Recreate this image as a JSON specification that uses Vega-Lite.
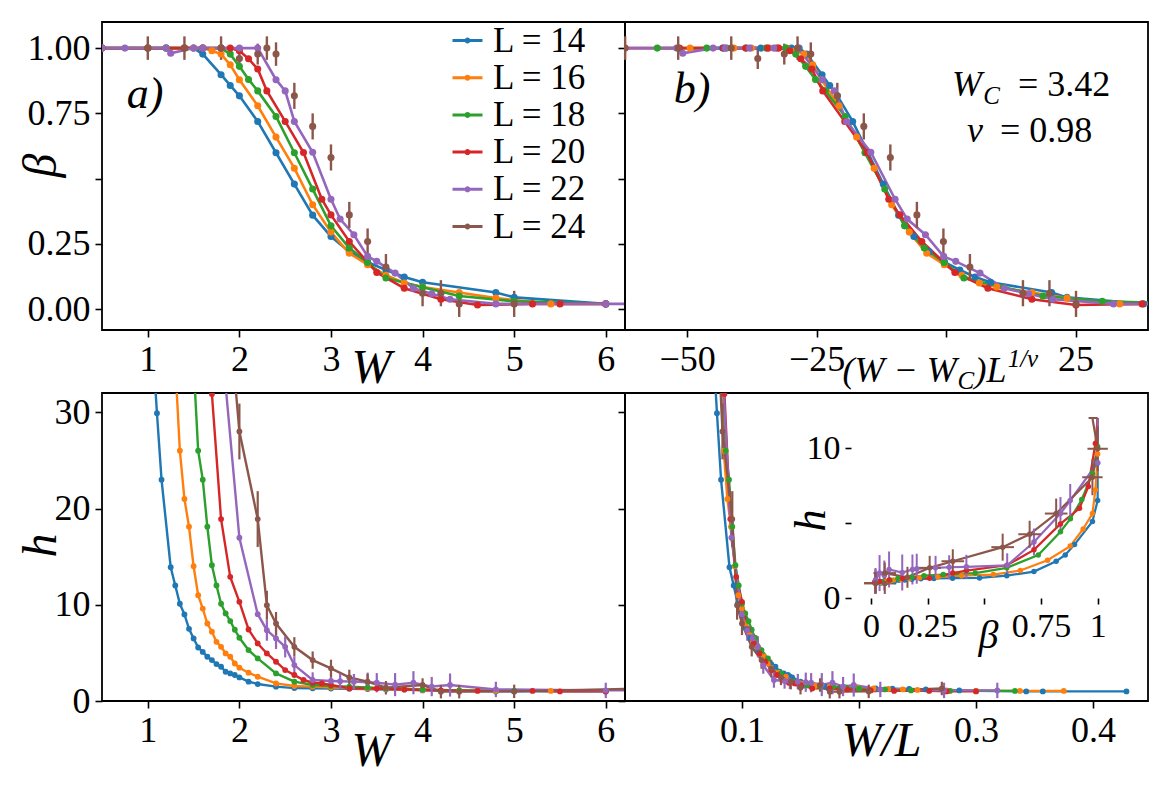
{
"$schema": "https://vega.github.io/schema/vega-lite/v6.json",
"padding": {"left": 16, "top": 21, "right": 5, "bottom": 5},
"background": "white",
"config": {
 "font": "Liberation Serif",
 "view": {"stroke": "black", "strokeWidth": 1.8},
 "axis": {"grid": false, "domain": false, "tickColor": "black", "tickWidth": 1.6, "tickSize": 7, "labelFont": "Liberation Serif", "labelFontSize": 36, "labelColor": "black", "labelPadding": 5, "labelFlush": false, "labelOverlap": false, "titleFont": "Liberation Serif", "titleFontStyle": "italic", "titleFontWeight": "normal", "titleColor": "black", "titleFontSize": 48}
},
"datasets": {"d": [
{"L":14,"W":0.5,"b":1,"xs":-43.15},
{"L":14,"W":1.0,"b":1,"h":45,"xs":-35.76,"wl":0.0714},
{"L":14,"W":1.1,"h":29.9,"wl":0.0786},
{"L":14,"W":1.15,"h":23.0,"wl":0.0821},
{"L":14,"W":1.2,"b":1,"xs":-32.8},
{"L":14,"W":1.25,"h":13.9,"wl":0.0893},
{"L":14,"W":1.3,"h":12.0,"wl":0.0929},
{"L":14,"W":1.35,"h":10.1,"wl":0.0964},
{"L":14,"W":1.4,"b":1,"h":9.0,"xs":-29.85,"wl":0.1},
{"L":14,"W":1.45,"h":7.5,"wl":0.1036},
{"L":14,"W":1.5,"b":1,"h":6.5,"xs":-28.37,"wl":0.1071},
{"L":14,"W":1.55,"h":5.56,"wl":0.1107},
{"L":14,"W":1.6,"b":0.977,"h":5.1,"xs":-26.89,"wl":0.1143},
{"L":14,"W":1.65,"h":4.6,"wl":0.1179},
{"L":14,"W":1.7,"h":4.25,"wl":0.1214},
{"L":14,"W":1.75,"h":3.84,"wl":0.125},
{"L":14,"W":1.8,"b":0.898,"h":3.56,"xs":-23.94,"wl":0.1286},
{"L":14,"W":1.85,"h":3.04,"wl":0.1321},
{"L":14,"W":1.9,"b":0.857,"h":2.87,"xs":-22.46,"wl":0.1357},
{"L":14,"W":1.95,"h":2.7,"wl":0.1393},
{"L":14,"W":2.0,"b":0.817,"h":2.45,"xs":-20.98,"wl":0.1429},
{"L":14,"W":2.1,"h":2.01,"wl":0.15},
{"L":14,"W":2.2,"b":0.719,"h":1.76,"xs":-18.03,"wl":0.1571},
{"L":14,"W":2.4,"b":0.599,"h":1.49,"xs":-15.07,"wl":0.1714},
{"L":14,"W":2.6,"b":0.479,"h":1.34,"xs":-12.12,"wl":0.1857},
{"L":14,"W":2.8,"b":0.36,"h":1.32,"xs":-9.16,"wl":0.2},
{"L":14,"W":3.0,"b":0.278,"h":1.3,"xs":-6.21,"wl":0.2143},
{"L":14,"W":3.2,"b":0.22,"h":1.28,"xs":-3.25,"wl":0.2286},
{"L":14,"W":3.4,"b":0.18,"h":1.25,"xs":-0.3,"wl":0.2429},
{"L":14,"W":3.6,"b":0.15,"h":1.2,"xs":2.66,"wl":0.2571},
{"L":14,"W":3.8,"b":0.123,"h":1.19,"xs":5.61,"wl":0.2714},
{"L":14,"W":4.0,"b":0.103,"h":1.1,"xs":8.57,"wl":0.2857},
{"L":14,"W":4.2,"h":1.05,"wl":0.3},
{"L":14,"W":4.8,"b":0.064,"h":1.0,"xs":20.39,"wl":0.3429},
{"L":14,"W":5.0,"b":0.045,"h":1.0,"xs":23.35,"wl":0.3571},
{"L":14,"W":6.0,"b":0.02,"h":1.0,"xs":38.12,"wl":0.4286},
{"L":16,"W":0.5,"b":1,"xs":-49.44},
{"L":16,"W":1.0,"b":1,"xs":-40.98},
{"L":16,"W":1.2,"b":1,"xs":-37.59},
{"L":16,"W":1.3,"h":35,"wl":0.0813},
{"L":16,"W":1.35,"h":26.0,"wl":0.0844},
{"L":16,"W":1.4,"b":1,"h":21.0,"xs":-34.2,"wl":0.0875},
{"L":16,"W":1.45,"h":18.1,"wl":0.0906},
{"L":16,"W":1.5,"b":1,"h":14.0,"xs":-32.51,"wl":0.0938},
{"L":16,"W":1.55,"h":11.0,"wl":0.0969},
{"L":16,"W":1.6,"b":1,"h":9.6,"xs":-30.82,"wl":0.1},
{"L":16,"W":1.65,"h":8.05,"wl":0.1031},
{"L":16,"W":1.7,"b":0.99,"h":7.2,"xs":-29.12,"wl":0.1063},
{"L":16,"W":1.75,"h":6.15,"wl":0.1094},
{"L":16,"W":1.8,"b":0.977,"h":5.63,"xs":-27.43,"wl":0.1125},
{"L":16,"W":1.85,"h":4.94,"wl":0.1156},
{"L":16,"W":1.9,"b":0.936,"h":4.6,"xs":-25.74,"wl":0.1188},
{"L":16,"W":1.95,"h":3.9,"wl":0.1219},
{"L":16,"W":2.0,"b":0.879,"h":3.46,"xs":-24.04,"wl":0.125},
{"L":16,"W":2.1,"h":2.94,"wl":0.1313},
{"L":16,"W":2.2,"b":0.779,"h":2.52,"xs":-20.66,"wl":0.1375},
{"L":16,"W":2.4,"b":0.659,"h":1.83,"xs":-17.27,"wl":0.15},
{"L":16,"W":2.6,"b":0.54,"h":1.56,"xs":-13.88,"wl":0.1625},
{"L":16,"W":2.8,"b":0.4,"h":1.49,"xs":-10.5,"wl":0.175},
{"L":16,"W":3.0,"b":0.295,"h":1.4,"xs":-7.11,"wl":0.1875},
{"L":16,"W":3.2,"b":0.214,"h":1.35,"xs":-3.73,"wl":0.2},
{"L":16,"W":3.4,"b":0.17,"h":1.3,"xs":-0.34,"wl":0.2125},
{"L":16,"W":3.6,"b":0.13,"h":1.25,"xs":3.05,"wl":0.225},
{"L":16,"W":3.8,"b":0.1,"h":1.2,"xs":6.43,"wl":0.2375},
{"L":16,"W":4.0,"b":0.085,"h":1.15,"xs":9.82,"wl":0.25},
{"L":16,"W":4.4,"b":0.064,"h":1.1,"xs":16.59,"wl":0.275},
{"L":16,"W":4.8,"b":0.042,"h":1.05,"xs":23.37,"wl":0.3},
{"L":16,"W":5.4,"b":0.02,"h":1.05,"xs":33.53,"wl":0.3375},
{"L":16,"W":6.0,"b":0.02,"h":1.05,"xs":43.68,"wl":0.375},
{"L":18,"W":0.5,"b":1,"xs":-55.76},
{"L":18,"W":1.0,"b":1,"xs":-46.21},
{"L":18,"W":1.2,"b":1,"xs":-42.39},
{"L":18,"W":1.4,"b":1,"xs":-38.57},
{"L":18,"W":1.5,"h":35,"wl":0.0833},
{"L":18,"W":1.55,"h":26.0,"wl":0.0861},
{"L":18,"W":1.6,"b":1,"h":23.0,"xs":-34.75,"wl":0.0889},
{"L":18,"W":1.65,"h":18.1,"wl":0.0917},
{"L":18,"W":1.7,"h":14.1,"wl":0.0944},
{"L":18,"W":1.75,"h":12.0,"wl":0.0972},
{"L":18,"W":1.8,"b":1,"h":10.1,"xs":-30.93,"wl":0.1},
{"L":18,"W":1.85,"h":9.1,"wl":0.1028},
{"L":18,"W":1.9,"b":0.977,"h":8.3,"xs":-29.02,"wl":0.1056},
{"L":18,"W":1.95,"h":7.4,"wl":0.1083},
{"L":18,"W":2.0,"b":0.93,"h":6.57,"xs":-27.11,"wl":0.1111},
{"L":18,"W":2.1,"b":0.88,"h":5.29,"xs":-25.21,"wl":0.1167},
{"L":18,"W":2.2,"b":0.836,"h":4.42,"xs":-23.3,"wl":0.1222},
{"L":18,"W":2.4,"b":0.738,"h":2.87,"xs":-19.48,"wl":0.1333},
{"L":18,"W":2.6,"b":0.599,"h":2.01,"xs":-15.66,"wl":0.1444},
{"L":18,"W":2.8,"b":0.46,"h":1.66,"xs":-11.84,"wl":0.1556},
{"L":18,"W":3.0,"b":0.319,"h":1.56,"xs":-8.02,"wl":0.1667},
{"L":18,"W":3.2,"b":0.234,"h":1.49,"xs":-4.2,"wl":0.1778},
{"L":18,"W":3.4,"b":0.179,"h":1.4,"xs":-0.38,"wl":0.1889},
{"L":18,"W":3.6,"b":0.119,"h":1.3,"xs":3.44,"wl":0.2},
{"L":18,"W":4.0,"b":0.084,"h":1.2,"xs":11.08,"wl":0.2222},
{"L":18,"W":4.4,"b":0.05,"h":1.1,"xs":18.71,"wl":0.2444},
{"L":18,"W":5.0,"b":0.03,"h":1.05,"xs":30.17,"wl":0.2778},
{"L":18,"W":6.0,"b":0.02,"h":1.05,"xs":49.27,"wl":0.3333},
{"L":20,"W":0.5,"b":1,"xs":-62.09},
{"L":20,"W":1.0,"b":1,"xs":-51.45},
{"L":20,"W":1.4,"b":1,"xs":-42.95},
{"L":20,"W":1.6,"b":1,"h":48,"xs":-38.7,"wl":0.08},
{"L":20,"W":1.7,"h":31.9,"wl":0.085},
{"L":20,"W":1.8,"b":1,"h":18.9,"xs":-34.44,"wl":0.09},
{"L":20,"W":1.9,"b":1,"h":12.9,"xs":-32.32,"wl":0.095},
{"L":20,"W":2.0,"b":0.99,"h":10.3,"xs":-30.19,"wl":0.1},
{"L":20,"W":2.1,"b":0.959,"h":7.43,"xs":-28.07,"wl":0.105},
{"L":20,"W":2.2,"b":0.92,"h":5.98,"xs":-25.94,"wl":0.11},
{"L":20,"W":2.3,"b":0.836,"h":4.94,"xs":-23.81,"wl":0.115},
{"L":20,"W":2.4,"h":4.08,"wl":0.12},
{"L":20,"W":2.5,"b":0.719,"h":3.21,"xs":-19.56,"wl":0.125},
{"L":20,"W":2.6,"h":2.7,"wl":0.13},
{"L":20,"W":2.7,"b":0.6,"h":2.18,"xs":-15.31,"wl":0.135},
{"L":20,"W":2.8,"h":1.9,"wl":0.14},
{"L":20,"W":2.9,"b":0.421,"h":1.83,"xs":-11.06,"wl":0.145},
{"L":20,"W":3.0,"b":0.361,"h":1.66,"xs":-8.93,"wl":0.15},
{"L":20,"W":3.2,"b":0.259,"h":1.31,"xs":-4.68,"wl":0.16},
{"L":20,"W":3.5,"b":0.14,"h":1.3,"xs":1.7,"wl":0.175},
{"L":20,"W":3.8,"b":0.08,"h":1.2,"xs":8.08,"wl":0.19},
{"L":20,"W":4.2,"b":0.038,"h":1.1,"xs":16.58,"wl":0.21},
{"L":20,"W":4.6,"b":0.016,"h":1.05,"xs":25.09,"wl":0.23},
{"L":20,"W":5.2,"b":0.02,"h":1.05,"xs":37.85,"wl":0.26},
{"L":20,"W":5.5,"b":0.02,"h":1.0,"xs":44.22,"wl":0.275},
{"L":20,"W":6.0,"b":0.02,"h":1.0,"xs":54.86,"wl":0.3},
{"L":22,"W":0.5,"b":1,"xs":-68.42},
{"L":22,"W":0.75,"b":1,"xs":-62.56},
{"L":22,"W":1.2,"b":1,"xs":-52.02},
{"L":22,"W":1.25,"b":0.98,"xs":-50.85},
{"L":22,"W":1.5,"b":1,"xs":-44.99},
{"L":22,"W":1.6,"b":1,"xs":-42.65},
{"L":22,"W":1.8,"b":1,"h":38,"xs":-37.96,"wl":0.0818},
{"L":22,"W":2.0,"b":1,"h":16.96,"xs":-33.27,"wl":0.0909},
{"L":22,"W":2.2,"b":1,"h":9.02,"xs":-28.59,"wl":0.1},
{"L":22,"W":2.3,"h":7.36,"he":1.1,"wl":0.1045},
{"L":22,"W":2.4,"b":0.879,"h":6.5,"he":1.1,"xs":-23.9,"wl":0.1091},
{"L":22,"W":2.5,"b":0.836,"h":5.63,"he":1.1,"xs":-21.56,"wl":0.1136},
{"L":22,"W":2.6,"b":0.719,"h":3.73,"he":0.9,"xs":-19.21,"wl":0.1182},
{"L":22,"W":2.8,"b":0.601,"h":2.18,"he":0.8,"xs":-14.53,"wl":0.1273},
{"L":22,"W":3.0,"b":0.421,"h":2.08,"he":0.8,"xs":-9.84,"wl":0.1364},
{"L":22,"W":3.1,"b":0.345,"h":2.05,"he":0.8,"xs":-7.5,"wl":0.1409},
{"L":22,"W":3.25,"b":0.285,"h":2.01,"he":0.8,"xs":-3.98,"wl":0.1477},
{"L":22,"W":3.4,"b":0.202,"h":1.95,"he":1.0,"xs":-0.47,"wl":0.1545},
{"L":22,"W":3.5,"b":0.183,"h":1.9,"he":1.0,"xs":1.87,"wl":0.1591},
{"L":22,"W":3.7,"b":0.138,"h":1.7,"he":1.2,"xs":6.56,"wl":0.1682},
{"L":22,"W":3.9,"b":0.08,"h":1.9,"he":1.2,"xs":11.25,"wl":0.1773},
{"L":22,"W":4.1,"b":0.059,"h":1.5,"he":1.0,"xs":15.93,"wl":0.1864},
{"L":22,"W":4.3,"b":0.038,"h":1.66,"he":1.2,"xs":20.62,"wl":0.1955},
{"L":22,"W":4.8,"b":0.02,"h":1.2,"he":0.8,"xs":32.34,"wl":0.2182},
{"L":22,"W":6.0,"b":0.02,"h":1.1,"he":0.8,"xs":60.45,"wl":0.2727},
{"L":22,"W":7.0,"b":0.02,"h":1.1,"he":0.8,"xs":83.89,"wl":0.3182},
{"L":24,"W":1.0,"b":1,"be":0.045,"xs":-61.97},
{"L":24,"W":1.4,"b":1,"be":0.045,"xs":-51.73},
{"L":24,"W":1.8,"b":1,"be":0.045,"h":50,"xs":-41.48,"wl":0.075},
{"L":24,"W":2.0,"b":0.96,"be":0.04,"h":28.0,"he":2.9,"xs":-36.36,"wl":0.0833},
{"L":24,"W":2.2,"b":0.977,"be":0.04,"h":18.9,"he":2.9,"xs":-31.24,"wl":0.0917},
{"L":24,"W":2.3,"b":1.0,"be":0.045,"h":9.95,"he":1.5,"xs":-28.68,"wl":0.0958},
{"L":24,"W":2.4,"b":0.977,"be":0.045,"h":8.05,"he":1.2,"xs":-26.12,"wl":0.1},
{"L":24,"W":2.6,"b":0.817,"be":0.05,"h":5.63,"he":1.0,"xs":-21.0,"wl":0.1083},
{"L":24,"W":2.8,"b":0.7,"be":0.05,"h":4.25,"he":0.9,"xs":-15.88,"wl":0.1167},
{"L":24,"W":3.0,"b":0.581,"be":0.05,"h":3.39,"he":0.9,"xs":-10.76,"wl":0.125},
{"L":24,"W":3.2,"b":0.361,"be":0.05,"h":2.45,"he":0.8,"xs":-5.63,"wl":0.1333},
{"L":24,"W":3.4,"b":0.259,"be":0.05,"h":2.01,"he":0.8,"xs":-0.51,"wl":0.1417},
{"L":24,"W":3.6,"b":0.161,"be":0.05,"h":1.38,"he":0.7,"xs":4.61,"wl":0.15},
{"L":24,"W":4.0,"b":0.061,"be":0.05,"h":1.66,"he":0.7,"xs":14.85,"wl":0.1667},
{"L":24,"W":4.2,"b":0.061,"be":0.05,"h":0.97,"he":0.7,"xs":19.97,"wl":0.175},
{"L":24,"W":4.4,"b":0.02,"be":0.05,"h":0.97,"he":0.7,"xs":25.1,"wl":0.1833},
{"L":24,"W":5.0,"b":0.02,"be":0.05,"h":1.0,"he":0.7,"xs":40.46,"wl":0.2083},
{"L":24,"W":6.5,"h":1.3,"he":0.7,"wl":0.2708}
]},
"data": {"name": "d"},
"columns": 2,
"spacing": {"row": 63, "column": 0},
"bounds": "flush",
"resolve": {"scale": {"color": "independent", "stroke": "independent"}, "legend": {"color": "independent", "stroke": "independent"}},
"concat": [
 {"width": 523, "height": 308,
  "encoding": {
   "x": {"field": "W", "type": "quantitative", "scale": {"domain": [0.5, 6.21], "nice": false, "zero": false},
         "axis": {"values": [1,2,3,4,5,6], "title": "W", "titleX": 269, "titleY": 38, "titleBaseline": "middle", "titleAlign": "center", "titleAngle": 0}},
   "y": {"field": "b", "type": "quantitative", "scale": {"domain": [-0.08, 1.1], "nice": false, "zero": false},
         "axis": {"values": [0, 0.25, 0.5, 0.75, 1], "labelExpr": "datum.value == 0.5 ? '' : format(datum.value, '.2f')", "title": "β", "titleX": -61, "titleY": 143, "titleAngle": 270, "titleBaseline": "middle", "titleAlign": "center"}}
  },
  "layer": [
   {"transform": [{"filter": "isValid(datum.b) && datum.L != 24"}],
    "mark": {"type": "line", "strokeWidth": 2.6, "clip": true},
    "encoding": {"stroke": {"field": "L", "type": "nominal", "scale": {"domain": [14,16,18,20,22,24], "range": ["#1f77b4","#ff7f0e","#2ca02c","#d62728","#9467bd","#8c564b"]},
      "legend": {"orient": "none", "legendX": 348, "legendY": 1, "title": null, "padding": 0, "symbolSize": 900, "symbolStrokeWidth": 3, "symbolType": "M-1,0L1,0M-0.1,0A0.1,0.1,0,1,1,0.1,0A0.1,0.1,0,1,1,-0.1,0Z", "labelFontSize": 35, "labelFont": "Liberation Serif", "labelColor": "black", "labelOffset": 8, "rowPadding": 1.2, "labelExpr": "'L = ' + datum.label"}}}},
   {"transform": [{"filter": "isValid(datum.be)"}],
    "mark": {"type": "errorbar", "thickness": 2.4},
    "encoding": {"yError": {"field": "be"}, "color": {"field": "L", "type": "nominal", "scale": {"domain": [14,16,18,20,22,24], "range": ["#1f77b4","#ff7f0e","#2ca02c","#d62728","#9467bd","#8c564b"]}, "legend": null}}},
   {"transform": [{"filter": "isValid(datum.b)"}],
    "mark": {"type": "point", "filled": true, "size": 50, "opacity": 1, "clip": true},
    "encoding": {"color": {"field": "L", "type": "nominal", "scale": {"domain": [14,16,18,20,22,24], "range": ["#1f77b4","#ff7f0e","#2ca02c","#d62728","#9467bd","#8c564b"]}, "legend": null}}},
   {"transform": [{"filter": "datum.L == 14 && datum.W == 0.5"}],
    "mark": {"type": "text", "text": "a)", "fontSize": 44, "fontStyle": "italic", "align": "center", "baseline": "middle"},
    "encoding": {"x": {"datum": 0.97, "type": "quantitative"}, "y": {"datum": 0.821, "type": "quantitative"}}}
  ]},
 {"width": 523, "height": 308,
  "encoding": {
   "x": {"field": "xs", "type": "quantitative", "scale": {"domain": [-62, 39], "nice": false, "zero": false},
         "axis": {"values": [-50,-25,0,25], "labelExpr": "datum.value == 0 ? '' : datum.label", "title": null}},
   "y": {"field": "b", "type": "quantitative", "scale": {"domain": [-0.08, 1.1], "nice": false, "zero": false},
         "axis": {"values": [0, 0.25, 0.5, 0.75, 1], "labels": false, "title": null}}
  },
  "layer": [
   {"transform": [{"filter": "isValid(datum.b) && datum.L != 24"}],
    "mark": {"type": "line", "strokeWidth": 2.6, "clip": true},
    "encoding": {"color": {"field": "L", "type": "nominal", "scale": {"domain": [14,16,18,20,22,24], "range": ["#1f77b4","#ff7f0e","#2ca02c","#d62728","#9467bd","#8c564b"]}, "legend": null}}},
   {"transform": [{"filter": "isValid(datum.be) && datum.xs > -62 && datum.xs < 39"}],
    "mark": {"type": "errorbar", "thickness": 2.4},
    "encoding": {"yError": {"field": "be"}, "color": {"field": "L", "type": "nominal", "scale": {"domain": [14,16,18,20,22,24], "range": ["#1f77b4","#ff7f0e","#2ca02c","#d62728","#9467bd","#8c564b"]}, "legend": null}}},
   {"transform": [{"filter": "isValid(datum.b)"}],
    "mark": {"type": "point", "filled": true, "size": 50, "opacity": 1, "clip": true},
    "encoding": {"color": {"field": "L", "type": "nominal", "scale": {"domain": [14,16,18,20,22,24], "range": ["#1f77b4","#ff7f0e","#2ca02c","#d62728","#9467bd","#8c564b"]}, "legend": null}}},
   {"transform": [{"filter": "datum.L == 14 && datum.W == 0.5"}], "mark": {"type": "text", "text": "b)", "fontSize": 44, "fontStyle": "italic", "align": "center", "baseline": "middle"},
    "encoding": {"x": {"datum": -49.07, "type": "quantitative"}, "y": {"datum": 0.84, "type": "quantitative"}}},
   {"transform": [{"filter": "datum.L == 14 && datum.W == 0.5"}], "mark": {"type": "text", "text": "W", "fontSize": 36, "fontStyle": "italic", "align": "left", "baseline": "alphabetic"},
    "encoding": {"x": {"datum": 1.15, "type": "quantitative"}, "y": {"datum": 0.817, "type": "quantitative"}}},
   {"transform": [{"filter": "datum.L == 14 && datum.W == 0.5"}], "mark": {"type": "text", "text": "C", "fontSize": 25, "fontStyle": "italic", "align": "left", "baseline": "alphabetic"},
    "encoding": {"x": {"datum": 7.2, "type": "quantitative"}, "y": {"datum": 0.786, "type": "quantitative"}}},
   {"transform": [{"filter": "datum.L == 14 && datum.W == 0.5"}], "mark": {"type": "text", "text": "= 3.42", "fontSize": 36, "align": "left", "baseline": "alphabetic"},
    "encoding": {"x": {"datum": 13.9, "type": "quantitative"}, "y": {"datum": 0.817, "type": "quantitative"}}},
   {"transform": [{"filter": "datum.L == 14 && datum.W == 0.5"}], "mark": {"type": "text", "text": "ν", "fontSize": 36, "fontStyle": "italic", "align": "left", "baseline": "alphabetic"},
    "encoding": {"x": {"datum": 4.06, "type": "quantitative"}, "y": {"datum": 0.642, "type": "quantitative"}}},
   {"transform": [{"filter": "datum.L == 14 && datum.W == 0.5"}], "mark": {"type": "text", "text": "= 0.98", "fontSize": 36, "align": "left", "baseline": "alphabetic"},
    "encoding": {"x": {"datum": 10.43, "type": "quantitative"}, "y": {"datum": 0.642, "type": "quantitative"}}},
   {"transform": [{"filter": "datum.L == 14 && datum.W == 0.5"}], "mark": {"type": "text", "text": "(W − W", "fontSize": 36, "fontStyle": "italic", "align": "left", "baseline": "alphabetic"},
    "encoding": {"x": {"datum": -20.0, "type": "quantitative"}, "y": {"datum": -0.2785, "type": "quantitative"}}},
   {"transform": [{"filter": "datum.L == 14 && datum.W == 0.5"}], "mark": {"type": "text", "text": "C", "fontSize": 25, "fontStyle": "italic", "align": "left", "baseline": "alphabetic"},
    "encoding": {"x": {"datum": 2.2, "type": "quantitative"}, "y": {"datum": -0.305, "type": "quantitative"}}},
   {"transform": [{"filter": "datum.L == 14 && datum.W == 0.5"}], "mark": {"type": "text", "text": ")L", "fontSize": 36, "fontStyle": "italic", "align": "left", "baseline": "alphabetic"},
    "encoding": {"x": {"datum": 5.5, "type": "quantitative"}, "y": {"datum": -0.2785, "type": "quantitative"}}},
   {"transform": [{"filter": "datum.L == 14 && datum.W == 0.5"}], "mark": {"type": "text", "text": "1/ν", "fontSize": 25, "fontStyle": "italic", "align": "left", "baseline": "alphabetic"},
    "encoding": {"x": {"datum": 11.9, "type": "quantitative"}, "y": {"datum": -0.221, "type": "quantitative"}}}
  ]},
 {"width": 523, "height": 308,
  "encoding": {
   "x": {"field": "W", "type": "quantitative", "scale": {"domain": [0.5, 6.21], "nice": false, "zero": false},
         "axis": {"values": [1,2,3,4,5,6], "title": "W", "titleX": 269, "titleY": 50, "titleBaseline": "middle", "titleAlign": "center", "titleAngle": 0}},
   "y": {"field": "h", "type": "quantitative", "scale": {"domain": [0, 32], "nice": false, "zero": false},
         "axis": {"values": [0, 10, 20, 30], "title": "h", "titleX": -61, "titleY": 152, "titleAngle": 270, "titleBaseline": "middle", "titleAlign": "center"}}
  },
  "layer": [
   {"transform": [{"filter": "isValid(datum.h)"}],
    "mark": {"type": "line", "strokeWidth": 2.4, "clip": true},
    "encoding": {"color": {"field": "L", "type": "nominal", "scale": {"domain": [14,16,18,20,22,24], "range": ["#1f77b4","#ff7f0e","#2ca02c","#d62728","#9467bd","#8c564b"]}, "legend": null}}},
   {"transform": [{"filter": "isValid(datum.he) && datum.W < 6.2"}],
    "mark": {"type": "errorbar", "thickness": 2.2},
    "encoding": {"yError": {"field": "he"}, "color": {"field": "L", "type": "nominal", "scale": {"domain": [14,16,18,20,22,24], "range": ["#1f77b4","#ff7f0e","#2ca02c","#d62728","#9467bd","#8c564b"]}, "legend": null}}},
   {"transform": [{"filter": "isValid(datum.h)"}],
    "mark": {"type": "point", "filled": true, "size": 34, "opacity": 1, "clip": true},
    "encoding": {"color": {"field": "L", "type": "nominal", "scale": {"domain": [14,16,18,20,22,24], "range": ["#1f77b4","#ff7f0e","#2ca02c","#d62728","#9467bd","#8c564b"]}, "legend": null}}},
   {"transform": [{"filter": "datum.L == 14 && datum.W == 0.5"}], "mark": {"type": "text", "text": "c)", "fontSize": 44, "fontStyle": "italic", "align": "center", "baseline": "middle"},
    "encoding": {"x": {"datum": 0.872, "type": "quantitative"}, "y": {"datum": 25.2, "type": "quantitative"}}}
  ]},
 {"width": 523, "height": 308,
  "layer": [
   {"encoding": {
     "x": {"field": "wl", "type": "quantitative", "scale": {"domain": [0, 0.447], "nice": false, "zero": false},
           "axis": {"values": [0.1, 0.2, 0.3, 0.4], "labelExpr": "datum.value == 0.2 ? '' : format(datum.value, '.1f')", "title": "W/L", "titleX": 256, "titleY": 40, "titleBaseline": "middle", "titleAlign": "center", "titleAngle": 0}},
     "y": {"field": "h", "type": "quantitative", "scale": {"domain": [0, 32], "nice": false, "zero": false},
           "axis": {"orient": "left", "values": [0, 10, 20, 30], "labels": false, "title": null}}
    },
    "layer": [
     {"transform": [{"filter": "isValid(datum.h)"}],
      "mark": {"type": "line", "strokeWidth": 2.4, "clip": true},
      "encoding": {"color": {"field": "L", "type": "nominal", "scale": {"domain": [14,16,18,20,22,24], "range": ["#1f77b4","#ff7f0e","#2ca02c","#d62728","#9467bd","#8c564b"]}, "legend": null}}},
     {"transform": [{"filter": "isValid(datum.he) && datum.h < 32"}],
      "mark": {"type": "errorbar", "thickness": 2.2},
      "encoding": {"yError": {"field": "he"}, "color": {"field": "L", "type": "nominal", "scale": {"domain": [14,16,18,20,22,24], "range": ["#1f77b4","#ff7f0e","#2ca02c","#d62728","#9467bd","#8c564b"]}, "legend": null}}},
     {"transform": [{"filter": "isValid(datum.h)"}],
      "mark": {"type": "point", "filled": true, "size": 34, "opacity": 1, "clip": true},
      "encoding": {"color": {"field": "L", "type": "nominal", "scale": {"domain": [14,16,18,20,22,24], "range": ["#1f77b4","#ff7f0e","#2ca02c","#d62728","#9467bd","#8c564b"]}, "legend": null}}},
     {"transform": [{"filter": "datum.L == 14 && datum.W == 0.5"}], "mark": {"type": "text", "text": "d)", "fontSize": 44, "fontStyle": "italic", "align": "center", "baseline": "middle"},
      "encoding": {"x": {"datum": 0.0333, "type": "quantitative"}, "y": {"datum": 25.3, "type": "quantitative"}}}
    ]},
   {"encoding": {
     "x": {"field": "b", "type": "quantitative", "scale": {"domain": [-0.088, 1.103], "range": [226, 496], "nice": false, "zero": false},
           "axis": {"orient": "bottom", "offset": -103, "values": [0, 0.25, 0.5, 0.75, 1], "labelExpr": "datum.value == 0.5 ? '' : datum.value == 0.25 ? '0.25' : datum.value == 0.75 ? '0.75' : format(datum.value, 'd')", "labelFontSize": 34, "tickSize": 6, "title": "β", "titleFontSize": 40, "titleX": 363, "titleY": 37, "titleBaseline": "middle", "titleAlign": "center", "titleAngle": 0}},
     "y": {"field": "h", "type": "quantitative", "scale": {"domain": [0, 12], "range": [205, 25], "nice": false, "zero": false, "clamp": true},
           "axis": {"orient": "left", "offset": -226, "values": [0, 5, 10], "labelExpr": "datum.value == 5 ? '' : format(datum.value, 'd')", "labelFontSize": 34, "tickSize": 6, "title": "h", "titleFontSize": 44, "titleX": -40, "titleY": 127, "titleAngle": 270, "titleBaseline": "middle", "titleAlign": "center"}}
    },
    "layer": [
     {"data": {"values": [{}]}, "mark": {"type": "rect", "fill": "white", "stroke": "black", "strokeWidth": 1.8},
      "encoding": {"x": {"datum": -0.088, "type": "quantitative"}, "x2": {"datum": 1.103},
                   "y": {"datum": 0, "type": "quantitative"}, "y2": {"datum": 12}}},
     {"transform": [{"filter": "isValid(datum.b) && isValid(datum.h)"}],
      "mark": {"type": "line", "strokeWidth": 2.2},
      "encoding": {"order": {"field": "W", "type": "quantitative"}, "color": {"field": "L", "type": "nominal", "scale": {"domain": [14,16,18,20,22,24], "range": ["#1f77b4","#ff7f0e","#2ca02c","#d62728","#9467bd","#8c564b"]}, "legend": null}}},
     {"transform": [{"filter": "isValid(datum.b) && isValid(datum.he) && datum.h <= 12"}],
      "mark": {"type": "errorbar", "thickness": 2},
      "encoding": {"yError": {"field": "he"}, "color": {"field": "L", "type": "nominal", "scale": {"domain": [14,16,18,20,22,24], "range": ["#1f77b4","#ff7f0e","#2ca02c","#d62728","#9467bd","#8c564b"]}, "legend": null}}},
     {"transform": [{"filter": "isValid(datum.h) && isValid(datum.be) && datum.h <= 12"}],
      "mark": {"type": "errorbar", "thickness": 2},
      "encoding": {"xError": {"field": "be"}, "color": {"field": "L", "type": "nominal", "scale": {"domain": [14,16,18,20,22,24], "range": ["#1f77b4","#ff7f0e","#2ca02c","#d62728","#9467bd","#8c564b"]}, "legend": null}}},
     {"transform": [{"filter": "isValid(datum.b) && isValid(datum.h) && datum.h <= 12"}],
      "mark": {"type": "point", "filled": true, "size": 30, "opacity": 1},
      "encoding": {"color": {"field": "L", "type": "nominal", "scale": {"domain": [14,16,18,20,22,24], "range": ["#1f77b4","#ff7f0e","#2ca02c","#d62728","#9467bd","#8c564b"]}, "legend": null}}}
    ]}
  ],
  "resolve": {"scale": {"x": "independent", "y": "independent"}, "axis": {"x": "independent", "y": "independent"}}}
]
}
